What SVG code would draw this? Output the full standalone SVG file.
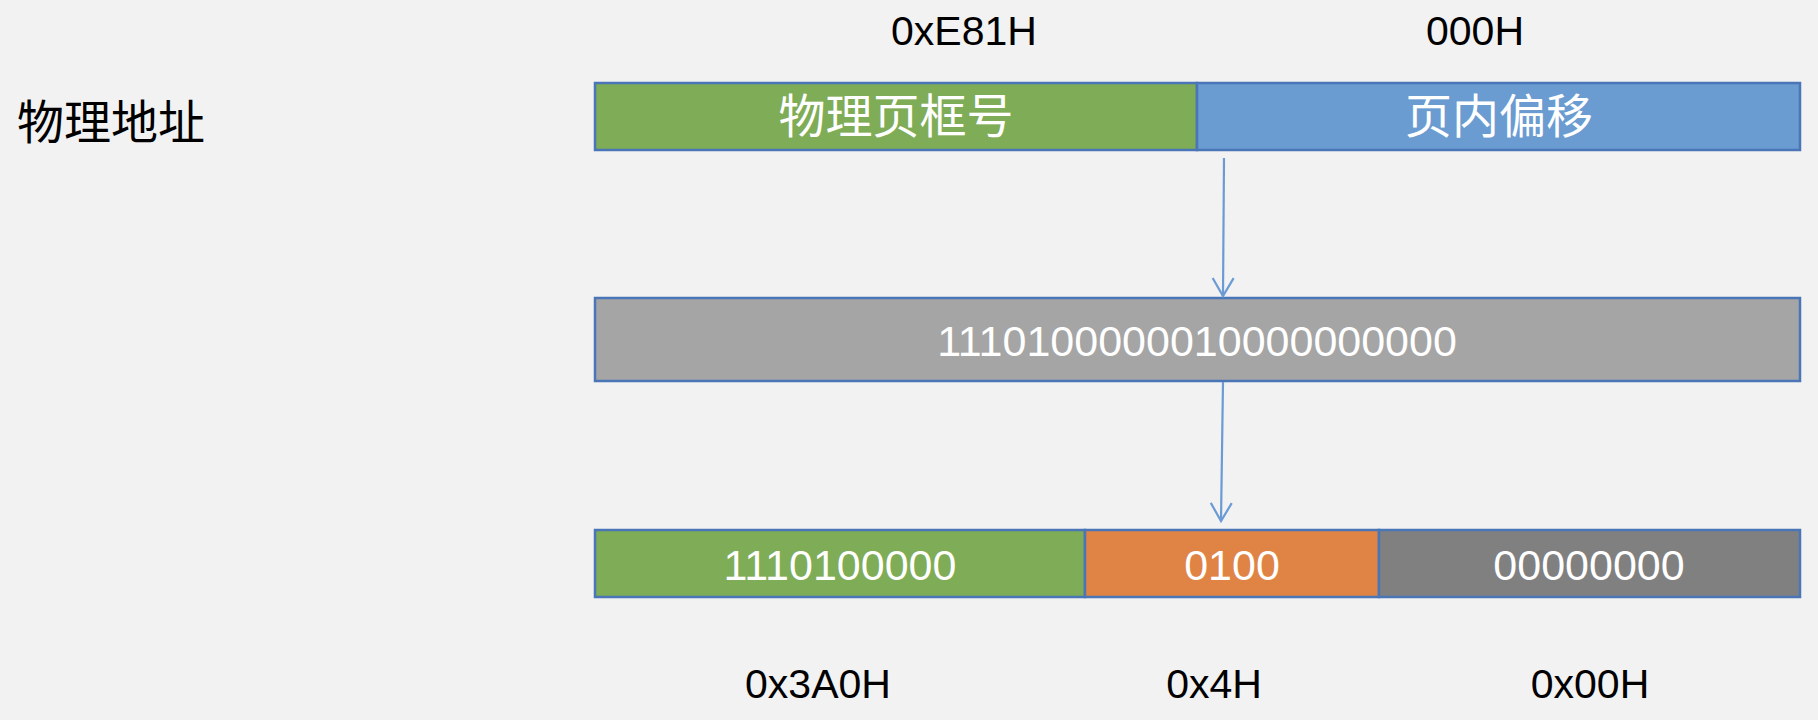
<svg xmlns="http://www.w3.org/2000/svg" width="1818" height="720" viewBox="0 0 1818 720">
<defs>
<style>
.bar{stroke:#4A76B8;stroke-width:2.5}
.num{font-family:"Liberation Sans",Arial,sans-serif;font-size:43px;fill:#FFFFFF;text-anchor:middle}
.lbl{font-family:"Liberation Sans",Arial,sans-serif;font-size:41px;fill:#000000;text-anchor:middle}
.cjk{font-family:"Noto Sans CJK SC",sans-serif;font-size:47px;fill:#FFFFFF;text-anchor:middle}
.conn{stroke:#6A9BD5;stroke-width:2.2;fill:none}
</style>
<marker id="arr" viewBox="0 0 24 24" refX="21" refY="12" markerWidth="24" markerHeight="24" markerUnits="userSpaceOnUse" orient="auto">
<path d="M3 1.5 L21 12 L3 22.5" fill="none" stroke="#6A9BD5" stroke-width="2.2"/>
</marker>
</defs>
<rect x="0" y="0" width="1818" height="720" fill="#F2F2F2"/>
<g id="title">
<text x="17" y="139" font-family="'Noto Sans CJK SC',sans-serif" font-size="47" fill="#000000">物理地址</text>
</g>
<g id="top-labels">
<text class="lbl" x="964" y="45">0xE81H</text>
<text class="lbl" x="1475" y="45">000H</text>
</g>
<g id="node-frame">
<rect class="bar" x="595" y="83" width="602" height="67" fill="#7FAC56"/>
<text class="cjk" x="896" y="133">物理页框号</text>
</g>
<g id="node-offset">
<rect class="bar" x="1197" y="83" width="603" height="67" fill="#6A9BD1"/>
<text class="cjk" x="1499" y="133">页内偏移</text>
</g>
<g id="node-binary">
<rect class="bar" x="595" y="298" width="1205" height="83" fill="#A5A5A5"/>
<text class="num" x="1197" y="356">1110100000010000000000</text>
</g>
<g id="node-b1">
<rect class="bar" x="595" y="530" width="490" height="67" fill="#7FAC56"/>
<text class="num" x="840" y="580">1110100000</text>
</g>
<g id="node-b2">
<rect class="bar" x="1085" y="530" width="294" height="67" fill="#E08445"/>
<text class="num" x="1232" y="580">0100</text>
</g>
<g id="node-b3">
<rect class="bar" x="1379" y="530" width="421" height="67" fill="#808080"/>
<text class="num" x="1589" y="580">00000000</text>
</g>
<g id="bottom-labels">
<text class="lbl" x="818" y="698">0x3A0H</text>
<text class="lbl" x="1214" y="698">0x4H</text>
<text class="lbl" x="1590" y="698">0x00H</text>
</g>
<g id="connectors">
<line class="conn" x1="1224" y1="158" x2="1223" y2="296" marker-end="url(#arr)"/>
<line class="conn" x1="1223" y1="382" x2="1221" y2="521" marker-end="url(#arr)"/>
</g>
</svg>
